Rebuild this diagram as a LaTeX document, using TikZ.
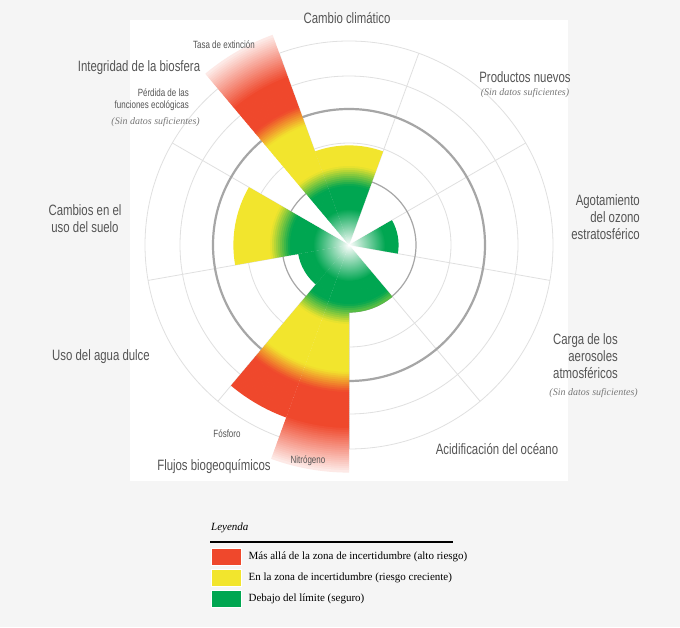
\documentclass[tikz,border=0pt]{standalone}
\usepackage{fontspec}
\setmainfont{Liberation Serif}
\newfontfamily\cond[FakeStretch=0.76]{Liberation Sans}
\usetikzlibrary{fadings}
\definecolor{bggray}{HTML}{F5F5F5}
\definecolor{gr}{RGB}{0,166,81}
\definecolor{ye}{RGB}{242,229,45}
\definecolor{rd}{RGB}{239,72,44}
\definecolor{lbl}{HTML}{555555}
\tikzfading[name=glow, inner color=transparent!0, outer color=transparent!100]
\tikzset{
  biglabel/.style={text=lbl, font=\cond\fontsize{15}{17}\selectfont, align=center, inner sep=0pt},
  smalllabel/.style={text=lbl, font=\cond\fontsize{10.5}{12}\selectfont, align=center, inner sep=0pt},
  nodata/.style={text=lbl!80, font=\itshape\fontsize{10}{12}\selectfont, inner sep=0pt},
  legtext/.style={font=\fontsize{11}{13}\selectfont, anchor=west, inner sep=0pt},
  swatch/.style={minimum width=30pt, minimum height=17pt, inner sep=0pt, draw=white, anchor=west},
  faint/.style={draw=black!12, line width=0.8pt},
}
% one wedge: start angle, end angle, radius, fade out at the tip (0/1)
\newcommand\pbwedge[4]{%
  \foreach \r in {1,3,...,#3}{%
    \pgfmathsetmacro\rr{\r+2.6}%
    \pgfmathsetmacro\gy{min(100,max(0,(\r-58)*5))}%
    \pgfmathsetmacro\yr{min(100,max(0,(\r-126)*5))}%
    \pgfmathsetmacro\fw{#4*min(100,max(0,(\r-#3+45)*2))}%
    \colorlet{tmpa}{ye!\gy!gr}%
    \colorlet{tmpb}{rd!\yr!tmpa}%
    \colorlet{tmpc}{white!\fw!tmpb}%
    \fill[tmpc] ([shift={(#1:\r)}]c) arc[start angle=#1, end angle=#2, radius=\r]
      -- ([shift={(#2:\rr)}]c) arc[start angle=#2, end angle=#1, radius=\rr] -- cycle;
  }}
\begin{document}
\begin{tikzpicture}[x=1pt, y=1pt]
  \useasboundingbox[fill=bggray] (0,0) rectangle (680,627);
  \fill[white] (130,146) rectangle (568,607);
  \coordinate (c) at (349,382);
  % grid
  \foreach \rad in {102,169,204} \draw[faint] (c) circle[radius=\rad];
  \foreach \ang in {-90,-50,...,230} \draw[faint] (c) -- ++(\ang:204);
  \draw[black!35, line width=1.2pt] (c) circle[radius=67];
  \draw[black!35, line width=2.2pt] (c) circle[radius=136];
  % boundaries
  \pbwedge{70}{110}{97}{0}
  \pbwedge{110}{130}{222}{1}
  \pbwedge{150}{190}{114}{0}
  \pbwedge{190}{230}{50}{0}
  \pbwedge{230}{250}{182}{0}
  \pbwedge{250}{270}{226}{1}
  \pbwedge{270}{310}{66}{0}
  \pbwedge{-10}{30}{48}{0}
  \fill[white, path fading=glow] (c) circle[radius=36];
  % labels
  \node (clima) [biglabel] at (347,609) {Cambio climático};
  \node (bio) [biglabel] at (139,559) {Integridad de la biosfera};
  \node (ext) [smalllabel] at (224,582) {Tasa de extinción};
  \node (func) [smalllabel, align=right, anchor=north east] at (189,538) {Pérdida de las\\funciones ecológicas};
  \node (funcnd) [nodata, anchor=north east] at (200,510) {(Sin datos suficientes)};
  \node (nuevos) [biglabel] at (525,550) {Productos nuevos};
  \node (nuevosnd) [nodata] at (525,534) {(Sin datos suficientes)};
  \node (ozono) [biglabel, align=right, anchor=east] at (640,410) {Agotamiento\\del ozono\\estratosférico};
  \node (aeros) [biglabel, align=right, anchor=east] at (618,271) {Carga de los\\aerosoles\\atmosféricos};
  \node (aerosnd) [nodata, anchor=east] at (638,234) {(Sin datos suficientes)};
  \node (ocean) [biglabel] at (497,178) {Acidificación del océano};
  \node (flujos) [biglabel] at (214,160) {Flujos biogeoquímicos};
  \node (fosf) [smalllabel] at (227,193) {Fósforo};
  \node (nitro) [smalllabel] at (308,166) {Nitrógeno};
  \node (agua) [biglabel] at (101,270) {Uso del agua dulce};
  \node (suelo) [biglabel] at (85,408) {Cambios en el\\uso del suelo};
  % legend
  \node (ley) [font=\itshape\fontsize{11}{13}\selectfont, anchor=west, inner sep=0pt] at (211,99) {Leyenda};
  \draw[line width=1.3pt] (210,85) -- (453,85);
  \node (s1) [swatch, fill=rd] at (211,70) {};
  \node (s2) [swatch, fill=ye] at (211,49) {};
  \node (s3) [swatch, fill=gr] at (211,28) {};
  \node (t1) [legtext] at ([xshift=7pt]s1.east) {Más allá de la zona de incertidumbre (alto riesgo)};
  \node (t2) [legtext] at ([xshift=7pt]s2.east) {En la zona de incertidumbre (riesgo creciente)};
  \node (t3) [legtext] at ([xshift=7pt]s3.east) {Debajo del límite (seguro)};
\end{tikzpicture}
\end{document}
